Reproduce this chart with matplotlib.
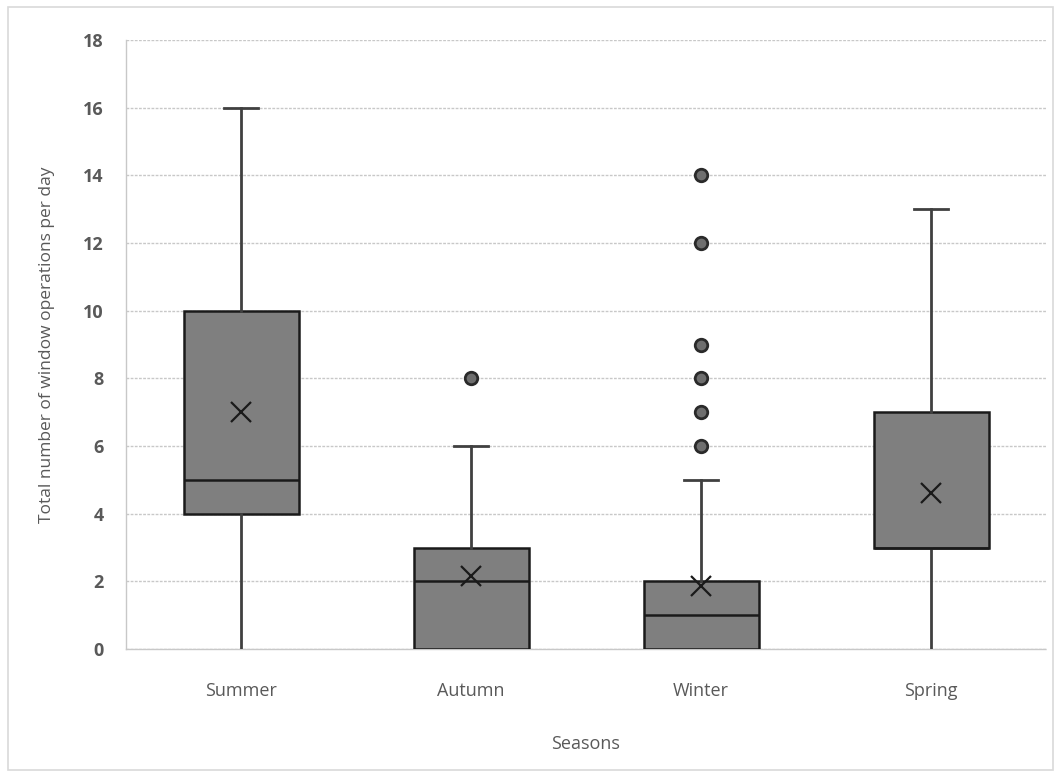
import matplotlib
matplotlib.use("Agg")
import matplotlib.pyplot as plt
from matplotlib.patches import Rectangle

plt.rcParams['font.family'] = ['Open Sans', 'DejaVu Sans']

seasons = ["Summer", "Autumn", "Winter", "Spring"]
whisker_low = [0, 0, 0, 0]
q1 = [4, 0, 0, 3]
median = [5, 2, 1, 3]
q3 = [10, 3, 2, 7]
whisker_high = [16, 6, 5, 13]
means = [7.0, 2.15, 1.85, 4.6]
outliers = [[], [8], [6, 7, 8, 9, 12, 14], []]
yticks = [0, 2, 4, 6, 8, 10, 12, 14, 16, 18]

stats = []
for i, s in enumerate(seasons):
    stats.append(dict(label=s, whislo=whisker_low[i], q1=q1[i], med=median[i],
                      q3=q3[i], whishi=whisker_high[i], mean=means[i],
                      fliers=outliers[i]))

fig = plt.figure(figsize=(10.59, 7.72), dpi=100)
ax = fig.add_axes([126/1059, 1 - 649/772, 920/1059, 609/772])

fig.patches.append(Rectangle((8/1059, 2/772), 1045/1059, 763/772, transform=fig.transFigure,
                             fill=False, edgecolor='#d9d9d9', linewidth=1.2))

positions = list(range(len(seasons)))
art = ax.bxp(stats, positions=positions, widths=0.5, capwidths=0.15,
             showmeans=True, patch_artist=True,
             boxprops=dict(facecolor='#7f7f7f', edgecolor='#1a1a1a', linewidth=1.8),
             medianprops=dict(color='#1a1a1a', linewidth=1.8),
             whiskerprops=dict(color='#404040', linewidth=2),
             capprops=dict(color='#404040', linewidth=2),
             meanprops=dict(marker='x', markeredgecolor='#1a1a1a', markersize=14, markeredgewidth=1.6),
             flierprops=dict(marker='o', markerfacecolor='#6e6e6e', markeredgecolor='#2a2a2a',
                             markersize=9, markeredgewidth=2),
             zorder=3)
# lower caps sit on the zero line and are not visible in the reference
for cap in art['caps']:
    if all(v == 0 for v in cap.get_ydata()):
        cap.set_visible(False)

ax.set_xlim(-0.5, len(seasons) - 0.5)
ax.set_ylim(0, 18)
ax.set_yticks(yticks)
ax.set_yticklabels([str(t) for t in yticks])
ax.yaxis.grid(True, color='#c8c8c8', linestyle=(0, (2, 1)), linewidth=1, zorder=0)
ax.set_axisbelow(True)
for side in ['top', 'right']:
    ax.spines[side].set_visible(False)
for side in ['left', 'bottom']:
    ax.spines[side].set_color('#c8c8c8')
    ax.spines[side].set_linestyle((0, (2, 1)))
    ax.spines[side].set_linewidth(1)
ax.tick_params(axis='both', length=0, labelsize=13, labelcolor='#595959')
ax.tick_params(axis='y', pad=16)
ax.tick_params(axis='x', pad=24)
for lbl in ax.get_yticklabels():
    lbl.set_fontweight('bold')

ax.set_ylabel("Total number of window operations per day", fontsize=12.5, color='#595959', labelpad=20)
ax.set_xlabel("Seasons", fontsize=13, color='#595959', labelpad=25)

fig.savefig("out.png", dpi=100)
